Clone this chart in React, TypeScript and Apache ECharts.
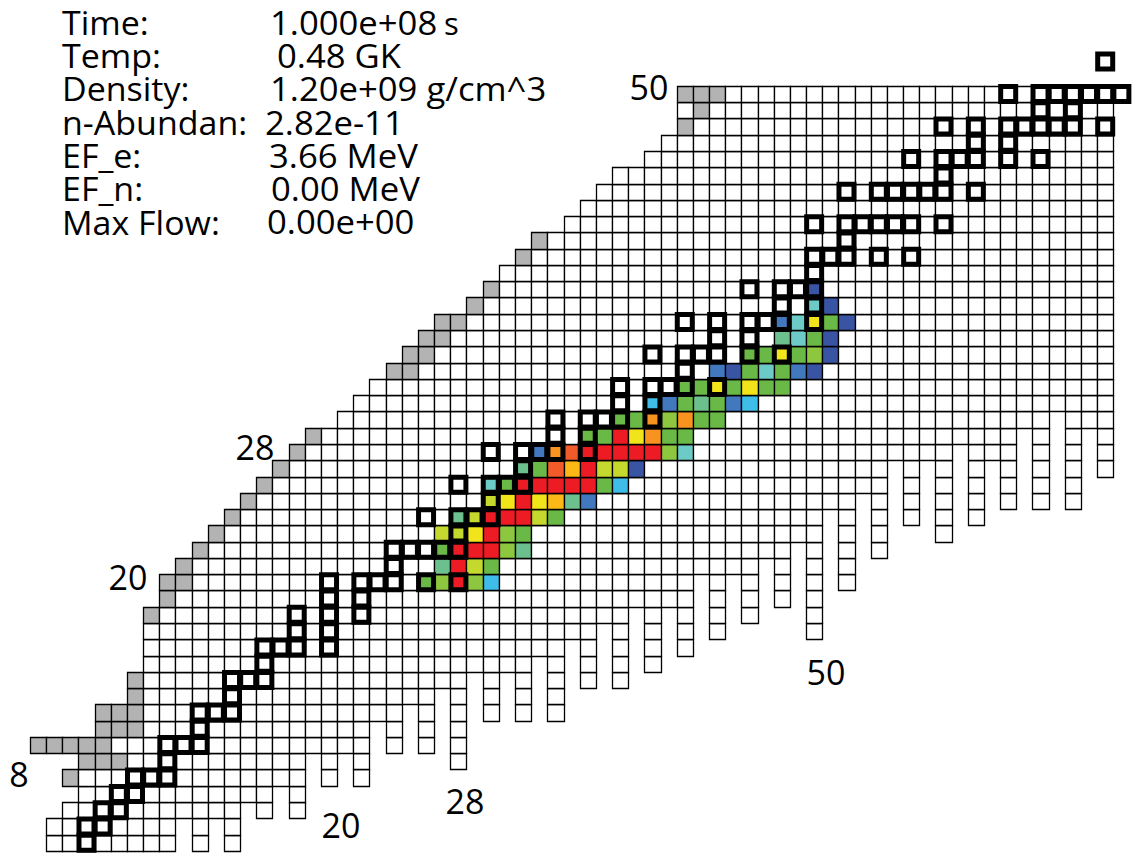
import { useEffect, useRef } from "react";
import * as echarts from "echarts";

// ---- nuclide chart data -------------------------------------------------

// first neutron number drawn in each proton row, for Z = 4 .. 50
const ROW_Z_MIN = 4;
const ROW_FIRST_N = [
  3, 3, 4, 5, 4, 5, 2, 6, 6, 8, 8, 9, 9, 9, 9, 10, 10, 11, 12, 13, 14, 15, 16,
  17, 18, 19, 21, 22, 23, 24, 25, 26, 27, 29, 30, 31, 32, 33, 35, 36, 37, 38,
  40, 41, 42, 42, 42,
];

// lowest proton number drawn in each neutron column, for N = 0 .. 69
const COL_LOWEST_Z = [
  99, 99, 4, 4, 4, 4, 4, 4, 4, 4, 4, 6, 4, 6, 4, 7, 6, 8, 6, 10, 8, 10, 8, 12,
  10, 13, 10, 14, 9, 15, 12, 15, 12, 16, 12, 17, 14, 18, 14, 19, 15, 19, 16, 21,
  17, 21, 18, 22, 19, 23, 17, 25, 20, 26, 22, 28, 24, 28, 23, 29, 24, 28, 25,
  30, 25, 31, 25, 30, 27, 50,
];

// last neutron number of each row (the Z = 50 row runs one further)
const ROW_LAST_N = 68;
const TOP_ROW_LAST_N = 69;
const TOP_ROW_Z = 50;

// proton-unbound nuclei at the left edge, [N, Z]
const GREY_CELLS: [number, number][] = [
  [4, 8], [5, 9], [6, 9], [7, 9], [2, 10], [3, 10], [4, 10], [5, 10], [6, 10],
  [6, 11], [7, 11], [8, 11], [6, 12], [7, 12], [8, 12], [8, 13], [8, 14],
  [9, 18], [10, 19], [10, 20], [11, 20], [11, 21], [12, 22], [13, 23], [14, 24],
  [15, 25], [16, 26], [17, 27], [18, 28], [19, 29], [24, 33], [25, 33], [25, 34],
  [26, 34], [26, 35], [27, 35], [27, 36], [28, 36], [29, 37], [30, 38], [32, 40],
  [33, 41], [42, 48], [43, 49], [42, 50], [43, 50], [44, 50],
];

// stable nuclei: [Z, neutron numbers]
const STABLE_ISOTOPES: [number, number[]][] = [
  [4, [5]], [5, [5, 6]], [6, [6, 7]], [7, [7, 8]], [8, [8, 9, 10]], [9, [10]],
  [10, [10, 11, 12]], [11, [12]], [12, [12, 13, 14]], [13, [14]],
  [14, [14, 15, 16]], [15, [16]], [16, [16, 17, 18, 20]], [17, [18, 20]],
  [18, [18, 20, 22]], [19, [20, 22]], [20, [20, 22, 23, 24, 26, 28]],
  [21, [24]], [22, [24, 25, 26, 27, 28]], [23, [28]], [24, [26, 28, 29, 30]],
  [25, [30]], [26, [28, 30, 31, 32]], [27, [32]], [28, [30, 32, 33, 34, 36]],
  [29, [34, 36]], [30, [34, 36, 37, 38, 40]], [31, [38, 40]],
  [32, [38, 40, 41, 42, 44]], [33, [42]], [34, [40, 42, 43, 44, 46, 48]],
  [35, [44, 46]], [36, [42, 44, 46, 47, 48, 50]], [37, [48, 50]],
  [38, [46, 48, 49, 50]], [39, [50]], [40, [50, 51, 52, 54, 56]], [41, [52]],
  [42, [50, 52, 53, 54, 55, 56, 58]], [44, [52, 54, 55, 56, 57, 58, 60]],
  [45, [58]], [46, [56, 58, 59, 60, 62, 64]], [47, [60, 62]],
  [48, [58, 60, 62, 63, 64, 65, 66, 68]], [49, [64, 66]],
  [50, [62, 64, 65, 66, 67, 68, 69]], [52, [68]],
];

// abundance colour scale, low (blue) to high (red)
const ABUNDANCE_COLORS = [
  "#3a54a4", "#4178be", "#3ebde9", "#6ccbc6", "#6cc08e", "#6ab946", "#8dc63f",
  "#c4d82e", "#f2e41a", "#fbb817", "#f7931e", "#f15a29", "#ed1c24",
];

// abundance level of each populated nucleus: [N, Z, level]
const ABUNDANCES: [number, number, number][] = [
  [26, 20, 5], [27, 20, 6], [28, 20, 12], [29, 20, 6], [30, 20, 2],
  [27, 21, 4], [28, 21, 12], [29, 21, 7], [30, 21, 5],
  [27, 22, 5], [28, 22, 12], [29, 22, 12], [30, 22, 12], [31, 22, 6], [32, 22, 4],
  [27, 23, 7], [28, 23, 7], [29, 23, 8], [30, 23, 12], [31, 23, 6], [32, 23, 5],
  [28, 24, 4], [29, 24, 7], [30, 24, 12], [31, 24, 12], [32, 24, 12], [33, 24, 7], [34, 24, 5],
  [30, 25, 7], [31, 25, 8], [32, 25, 12], [33, 25, 8], [34, 25, 9], [35, 25, 4], [36, 25, 1],
  [30, 26, 3], [31, 26, 5], [32, 26, 12], [33, 26, 12], [34, 26, 12], [35, 26, 12], [36, 26, 12], [37, 26, 5], [38, 26, 2],
  [32, 27, 4], [33, 27, 5], [34, 27, 11], [35, 27, 9], [36, 27, 12], [37, 27, 7], [38, 27, 7], [39, 27, 0],
  [33, 28, 1], [34, 28, 10], [35, 28, 11], [36, 28, 12], [37, 28, 12], [38, 28, 12], [39, 28, 12], [40, 28, 12], [41, 28, 6], [42, 28, 3],
  [36, 29, 5], [37, 29, 5], [38, 29, 12], [39, 29, 8], [40, 29, 10], [41, 29, 5], [42, 29, 5],
  [38, 30, 5], [39, 30, 5], [40, 30, 10], [41, 30, 6], [42, 30, 10], [43, 30, 5], [44, 30, 5],
  [40, 31, 2], [41, 31, 1], [42, 31, 5], [43, 31, 4], [44, 31, 5], [45, 31, 1], [46, 31, 2],
  [42, 32, 5], [43, 32, 5], [44, 32, 8], [45, 32, 5], [46, 32, 8], [47, 32, 5], [48, 32, 5],
  [44, 33, 1], [45, 33, 0], [46, 33, 5], [47, 33, 3], [48, 33, 5], [49, 33, 1], [50, 33, 0],
  [46, 34, 5], [47, 34, 5], [48, 34, 8], [49, 34, 5], [50, 34, 6], [51, 34, 0],
  [48, 35, 4], [49, 35, 3], [50, 35, 5], [51, 35, 0],
  [48, 36, 1], [49, 36, 3], [50, 36, 8], [51, 36, 5], [52, 36, 0],
  [50, 37, 3], [51, 37, 0],
  [50, 38, 0],
];

// magic-number labels: proton side and neutron side
const Z_LABELS: [string, number, number][] = [
  ["8", 19, 774], ["20", 128, 577], ["28", 255, 447], ["50", 649, 87],
];
const N_LABELS: [string, number, number][] = [
  ["20", 341, 825], ["28", 465, 801], ["50", 826, 672],
];

// run conditions
const INFO_KEYS = ["Time:", "Temp:", "Density:", "n-Abundan:", "EF_e:", "EF_n:", "Max Flow:"];
const INFO_VALUES = ["1.000e+08", "0.48 GK", "1.20e+09 g/cm^3", "2.82e-11", "3.66 MeV", "0.00 MeV", "0.00e+00"];
const INFO_VALUE_X = [270, 277, 270, 265, 269, 271, 267];

const FONT = "Open Sans";

const snap = (v: number) => Math.round(v) + 0.5;

export default function App() {
  const ref = useRef<HTMLDivElement>(null);

  useEffect(() => {
    if (!ref.current) return;
    const chart = echarts.init(ref.current, undefined, { renderer: "svg" });

    const greyKey = new Set(GREY_CELLS.map(([n, z]) => `${n}:${z}`));
    const colorKey = new Map(ABUNDANCES.map(([n, z, l]) => [`${n}:${z}`, l]));

    // every drawn nucleus: [N, Z, fill code] (-2 white, -1 grey, >=0 abundance)
    const cells: number[][] = [];
    ROW_FIRST_N.forEach((first, i) => {
      const z = ROW_Z_MIN + i;
      const last = z === TOP_ROW_Z ? TOP_ROW_LAST_N : ROW_LAST_N;
      for (let n = first; n <= last; n++) {
        if (z < COL_LOWEST_Z[n]) continue;
        const k = `${n}:${z}`;
        const code = colorKey.has(k) ? (colorKey.get(k) as number) : greyKey.has(k) ? -1 : -2;
        cells.push([n, z, code]);
      }
    });

    const stable: number[][] = [];
    STABLE_ISOTOPES.forEach(([z, ns]) => ns.forEach((n) => stable.push([n, z])));

    const texts: any[] = [];
    const textStyle = (text: string, size: number, align: string) => ({
      text, font: `${size}px "${FONT}"`, fill: "#000", verticalAlign: "middle", align,
      lineHeight: Math.round(size * 0.88),
    });
    INFO_KEYS.forEach((key, i) => {
      const y = 22 + i * 33.3;
      texts.push({
        type: "text", x: 62, y, silent: true, scaleX: 1.03, originX: 0,
        style: textStyle(key, 33, "left"),
      });
      texts.push({
        type: "text", x: INFO_VALUE_X[i], y, silent: true, scaleX: 1.05, originX: 0,
        style: textStyle(INFO_VALUES[i], 33, "left"),
      });
    });
    texts.push({ type: "text", x: 444, y: 23, silent: true, style: textStyle("s", 31, "left") });
    [...Z_LABELS, ...N_LABELS].forEach(([t, x, y]) => {
      texts.push({ type: "text", x, y, silent: true, style: textStyle(t, 34, "center") });
    });

    chart.setOption({
      animation: false,
      backgroundColor: "#ffffff",
      grid: { left: 5.64, width: 69.5 * 16.17, top: 910.83 - 53 * 16.333, height: 50 * 16.333 },
      xAxis: { type: "value", min: 0, max: 69.5, show: false },
      yAxis: { type: "value", min: 3, max: 53, show: false },
      series: [
        {
          type: "custom",
          silent: true,
          data: cells,
          encode: { x: 0, y: 1 },
          renderItem: (_p: any, api: any) => {
            const c = api.coord([api.value(0), api.value(1)]);
            const s = api.size([1, 1]);
            const code = api.value(2);
            const fill = code >= 0 ? ABUNDANCE_COLORS[code] : code === -1 ? "#b3b3b3" : "#ffffff";
            const x0 = snap(c[0] - s[0] / 2);
            const x1 = snap(c[0] + s[0] / 2);
            const y0 = snap(c[1] - s[1] / 2);
            const y1 = snap(c[1] + s[1] / 2);
            return {
              type: "rect",
              shape: { x: x0, y: y0, width: x1 - x0, height: y1 - y0 },
              style: { fill, stroke: "#000000", lineWidth: 1.3 },
            };
          },
        },
        {
          type: "custom",
          silent: true,
          data: stable,
          encode: { x: 0, y: 1 },
          renderItem: (_p: any, api: any) => {
            const c = api.coord([api.value(0), api.value(1)]);
            const box = 15;
            return {
              type: "rect",
              shape: { x: c[0] - box / 2, y: c[1] - box / 2, width: box, height: box },
              style: { fill: "none", stroke: "#000000", lineWidth: 5 },
            };
          },
        },
      ],
      graphic: texts,
    });

    return () => chart.dispose();
  }, []);

  return (
    <div
      ref={ref}
      style={{ position: "absolute", left: 0, top: 0, width: 1136, height: 859, background: "#fff" }}
    />
  );
}
